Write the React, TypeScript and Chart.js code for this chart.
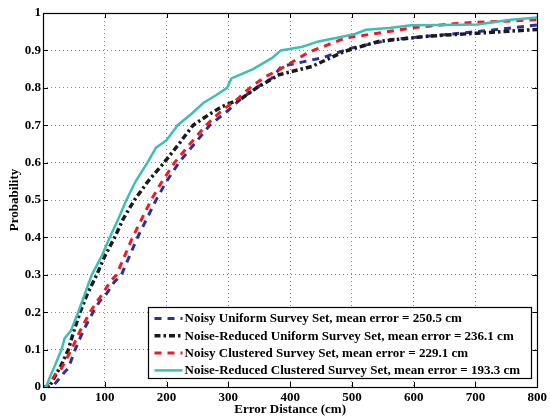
import React, { useEffect, useRef } from "react";
import Chart from "chart.js/auto";

// ---- Data ----
const seriesNames = [
  "Noisy Uniform Survey Set, mean error = 250.5 cm",
  "Noise-Reduced Uniform Survey Set, mean error = 236.1 cm",
  "Noisy Clustered Survey Set, mean error = 229.1 cm",
  "Noise-Reduced Clustered Survey Set, mean error = 193.3 cm",
];

const noisyUniformX = [0, 15, 25, 35, 41, 52, 65, 81, 92, 103, 115, 127, 140, 153, 168, 183, 200, 220, 245, 270, 300, 320, 345, 370, 386, 451, 499, 564, 650, 731, 800];
const noisyUniformY = [0, 0, 0.02, 0.04, 0.05, 0.1, 0.15, 0.2, 0.23, 0.25, 0.28, 0.3, 0.35, 0.4, 0.45, 0.5, 0.55, 0.6, 0.65, 0.7, 0.74, 0.77, 0.8, 0.825, 0.857, 0.88, 0.906, 0.929, 0.942, 0.955, 0.968];

const reducedUniformX = [0, 10, 20, 30, 41, 50, 60, 72, 87, 100, 116, 130, 148, 170, 196, 220, 243, 270, 290, 320, 346, 382, 435, 489, 543, 623, 703, 800];
const reducedUniformY = [0, 0, 0.03, 0.06, 0.1, 0.15, 0.2, 0.25, 0.3, 0.35, 0.4, 0.45, 0.5, 0.55, 0.6, 0.65, 0.7, 0.73, 0.75, 0.77, 0.8, 0.835, 0.857, 0.898, 0.924, 0.938, 0.946, 0.956];

const noisyClusteredX = [0, 5, 15, 22, 30, 46, 60, 76, 88, 97, 108, 119, 132, 145, 160, 175, 193, 213, 238, 264, 290, 315, 335, 360, 382, 430, 489, 554, 596, 676, 800];
const noisyClusteredY = [0, 0, 0.02, 0.04, 0.05, 0.1, 0.15, 0.2, 0.23, 0.25, 0.28, 0.3, 0.35, 0.4, 0.45, 0.5, 0.55, 0.6, 0.65, 0.7, 0.74, 0.77, 0.8, 0.83, 0.848, 0.895, 0.933, 0.949, 0.96, 0.973, 0.982];

const reducedClusteredX = [0, 5, 12, 20, 30, 35, 45, 57, 68, 79, 95, 108, 122, 135, 150, 169, 183, 200, 218, 240, 260, 280, 298, 305, 340, 371, 385, 420, 446, 480, 505, 523, 560, 596, 650, 703, 757, 800];
const reducedClusteredY = [0, 0, 0.03, 0.06, 0.1, 0.13, 0.15, 0.2, 0.25, 0.3, 0.35, 0.4, 0.45, 0.5, 0.55, 0.6, 0.64, 0.66, 0.7, 0.73, 0.76, 0.78, 0.8, 0.825, 0.85, 0.88, 0.9, 0.91, 0.924, 0.935, 0.944, 0.955, 0.96, 0.967, 0.968, 0.969, 0.982, 0.988];

const xTicks = [0, 100, 200, 300, 400, 500, 600, 700, 800];
const yTicks = [0, 0.1, 0.2, 0.3, 0.4, 0.5, 0.6, 0.7, 0.8, 0.9, 1];

const xTitle = "Error Distance (cm)";
const yTitle = "Probability";

// ---- Styles ----
const FONT = "'Liberation Serif', 'Times New Roman', serif";
const styles = [
  { color: "#2E3192", width: 3, dash: [7, 6] },
  { color: "#1A1A1A", width: 3.5, dash: [6, 3, 2.5, 3] },
  { color: "#ED1C24", width: 3, dash: [7, 6] },
  { color: "#3CBFB6", width: 2.5, dash: [] as number[] },
];

const zip = (xs: number[], ys: number[]) => xs.map((x, i) => ({ x, y: ys[i] }));

const frameTicksPlugin = {
  id: "frameTicks",
  afterDatasetsDraw(chart: any) {
    const ctx = chart.ctx;
    const { left, right, top, bottom } = chart.chartArea;
    const xs = chart.scales.x;
    const ys = chart.scales.y;
    ctx.save();
    ctx.strokeStyle = "#000";
    ctx.lineWidth = 1;
    ctx.setLineDash([]);
    ctx.beginPath();
    const L = 5;
    xTicks.forEach((v) => {
      const px = Math.round(xs.getPixelForValue(v)) + 0.5;
      ctx.moveTo(px, bottom);
      ctx.lineTo(px, bottom - L);
      ctx.moveTo(px, top);
      ctx.lineTo(px, top + L);
    });
    yTicks.forEach((v) => {
      const py = Math.round(ys.getPixelForValue(v)) + 0.5;
      ctx.moveTo(left, py);
      ctx.lineTo(left + L, py);
      ctx.moveTo(right, py);
      ctx.lineTo(right - L, py);
    });
    ctx.stroke();
    ctx.lineWidth = 1.2;
    ctx.strokeRect(Math.round(left) + 0.5, Math.round(top) + 0.5, Math.round(right - left), Math.round(bottom - top));

    // Legend box (lower right, inside the axes)
    const bw = 383;
    const bh = 71;
    const bx = Math.round(right - 6 - bw) + 0.5;
    const by = Math.round(bottom - 9 - bh) + 0.5;
    ctx.fillStyle = "#fff";
    ctx.fillRect(bx, by, bw, bh);
    ctx.lineWidth = 1.2;
    ctx.strokeStyle = "#000";
    ctx.strokeRect(bx, by, bw, bh);
    ctx.font = `bold 13px ${FONT}`;
    ctx.textBaseline = "middle";
    ctx.textAlign = "left";
    seriesNames.forEach((name, i) => {
      const cy = by + 11 + i * 17.3;
      const st = styles[i];
      ctx.strokeStyle = st.color;
      ctx.lineWidth = st.width;
      ctx.setLineDash(st.dash);
      ctx.beginPath();
      ctx.moveTo(bx + 6, cy);
      ctx.lineTo(bx + 34, cy);
      ctx.stroke();
      ctx.setLineDash([]);
      ctx.fillStyle = "#000";
      ctx.fillText(name, bx + 36, cy + 0.5);
    });
    ctx.restore();
  },
};

export default function App() {
  const ref = useRef<HTMLCanvasElement | null>(null);
  useEffect(() => {
    if (!ref.current) return;
    const data = [
      zip(noisyUniformX, noisyUniformY),
      zip(reducedUniformX, reducedUniformY),
      zip(noisyClusteredX, noisyClusteredY),
      zip(reducedClusteredX, reducedClusteredY),
    ];
    const chart = new Chart(ref.current, {
      type: "line",
      data: {
        datasets: data.map((d, i) => ({
          label: seriesNames[i],
          data: d,
          borderColor: styles[i].color,
          backgroundColor: styles[i].color,
          borderWidth: styles[i].width,
          borderDash: styles[i].dash,
          pointRadius: 0,
          tension: 0,
          fill: false,
          order: 4 - i,
        })),
      },
      options: {
        animation: false,
        responsive: false,
        maintainAspectRatio: false,
        layout: { padding: { top: 13, right: 10, left: 0, bottom: 0 } },
        plugins: { legend: { display: false }, tooltip: { enabled: false } },
        scales: {
          x: {
            type: "linear",
            min: 0,
            max: 800,
            afterFit: (s: any) => {
              s.height = 32;
            },
            afterBuildTicks: (s: any) => {
              s.ticks = xTicks.map((v) => ({ value: v }));
            },
            ticks: {
              color: "#000",
              font: { family: FONT, size: 13, weight: "bold" },
              padding: 3,
              maxRotation: 0,
              callback: (v: any) => String(v),
            },
            grid: { color: "#8a8a8a", lineWidth: 1, drawTicks: false },
            border: { display: false, dash: [1, 3] },
            title: {
              display: true,
              text: xTitle,
              color: "#000",
              font: { family: FONT, size: 13, weight: "bold" },
              padding: { top: 0, bottom: 2 },
            },
          },
          y: {
            type: "linear",
            min: 0,
            max: 1,
            afterFit: (s: any) => {
              s.width = 43;
            },
            afterBuildTicks: (s: any) => {
              s.ticks = yTicks.map((v) => ({ value: v }));
            },
            ticks: {
              color: "#000",
              font: { family: FONT, size: 13, weight: "bold" },
              padding: 2,
              callback: (v: any) => String(Number(Number(v).toFixed(1))),
            },
            grid: { color: "#8a8a8a", lineWidth: 1, drawTicks: false },
            border: { display: false, dash: [1, 3] },
            title: {
              display: true,
              text: yTitle,
              color: "#000",
              font: { family: FONT, size: 13, weight: "bold" },
              padding: { top: 7, bottom: 0 },
            },
          },
        },
      },
      plugins: [frameTicksPlugin],
    } as any);
    return () => chart.destroy();
  }, []);
  return (
    <div style={{ position: "absolute", left: 0, top: 0, width: 550, height: 419, background: "#fff" }}>
      <canvas ref={ref} width={550} height={419} style={{ width: 550, height: 419, display: "block" }} />
    </div>
  );
}
